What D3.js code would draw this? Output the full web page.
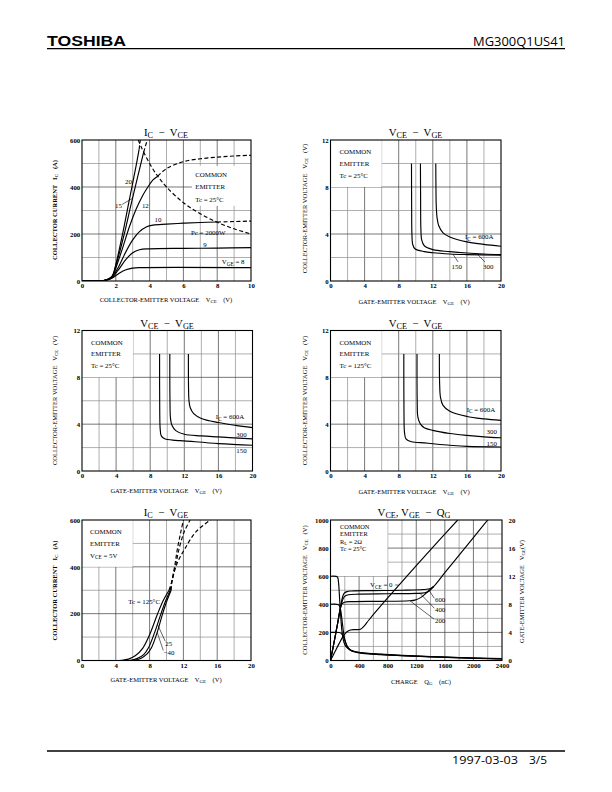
<!DOCTYPE html>
<html>
<head>
<meta charset="utf-8">
<script src="https://cdn.jsdelivr.net/npm/d3@7"></script>
<style>
  body { margin: 0; background: #fff; }
  svg { display: block; }
  text { white-space: pre; }
</style>
</head>
<body>
<svg id="page" width="612" height="792"></svg>
<script>

// ---------------- data ----------------

// IC - VCE, Tc = 25°C  (VCE in V, IC in A)
const icVceTicksX = [0, 2, 4, 6, 8, 10];
const icVceTicksY = [0, 200, 400, 600];
const icVce20 = [[0,0],[0.8,0],[1.2,1],[1.5,6],[1.8,22],[2.0,70],[2.4,200],[2.8,345],[3.2,490],[3.38,560],[3.45,600]];
const icVce15 = [[0,0],[0.8,0],[1.2,1],[1.5,6],[1.8,22],[2.0,65],[2.5,200],[2.9,325],[3.3,445],[3.65,548],[3.8,585],[3.88,600]];
const icVce12 = [[0,0],[0.8,0],[1.2,1],[1.5,6],[1.8,20],[2.0,55],[2.4,140],[2.8,230],[3.2,305],[3.6,365],[3.9,400],[4.2,430],[4.48,446],[5,478],[6,508],[7,520],[8,527],[9,532],[10,535]];
const icVce10 = [[0,0],[0.8,0],[1.2,1],[1.5,5],[1.8,18],[2.2,65],[2.6,125],[3.0,175],[3.4,210],[3.8,230],[4.2,238],[5,242],[6,246],[7,249],[8,251],[9,253],[10,255]];
const icVce9  = [[0,0],[0.8,0],[1.2,1],[1.5,5],[1.8,16],[2.2,52],[2.6,92],[3.0,120],[3.4,133],[4,137],[6,139],[8,140],[10,142]];
const icVce8  = [[0,0],[0.8,0],[1.2,1],[1.5,4],[1.8,13],[2.2,33],[2.6,48],[3.0,55],[3.5,57],[10,57]];
const icVceDashFrom = [3.38, 3.65, 4.48, 8, 99, 99];
const pcLimit = [[3.33,600],[3.5,571],[4,500],[4.5,444],[5,400],[6,333],[7,286],[8,250],[9,222],[10,200]];

// VCE - VGE  (VGE in V, VCE in V)
const vceVgeTicksX = [0, 4, 8, 12, 16, 20];
const vceVgeTicksY = [0, 4, 8, 12];
// top right sheet, Tc = 25°C
const vgeA600 = [[12.35,10],[12.37,8],[12.4,6.5],[12.5,5.4],[12.7,4.7],[13.2,4.1],[14,3.75],[16,3.33],[18,3.12],[20,2.96]];
const vgeA300 = [[10.55,10],[10.57,7],[10.6,4.5],[10.7,3.5],[11,3.0],[12,2.67],[14,2.5],[16,2.38],[18,2.3],[20,2.25]];
const vgeA150 = [[9.5,10],[9.52,6],[9.55,4],[9.65,3.1],[9.9,2.75],[11,2.5],[12,2.4],[14,2.3],[16,2.25],[20,2.19]];
// middle left sheet, Tc = 25°C
const vgeB600 = [[12.48,10],[12.5,7],[12.55,6],[12.7,5.4],[13.1,4.9],[14,4.49],[16,4.14],[18,3.9],[20,3.71]];
const vgeB300 = [[10.3,10],[10.32,6],[10.38,4.5],[10.55,3.9],[11,3.45],[12,3.14],[14,3.0],[16,2.91],[20,2.74]];
const vgeB150 = [[9.1,10],[9.12,5],[9.17,3.6],[9.3,3.0],[9.7,2.75],[11,2.62],[12,2.57],[16,2.34],[20,2.2]];
// middle right sheet, Tc = 125°C
const vgeHot600 = [[12.77,10],[12.8,7.5],[12.9,6.3],[13.2,5.6],[14,5.1],[16,4.66],[18,4.45],[20,4.32]];
const vgeHot300 = [[10.15,10],[10.17,6],[10.25,4.6],[10.55,4.0],[11,3.7],[12,3.47],[14,3.2],[16,3.04],[18,2.92],[20,2.84]];
const vgeHot150 = [[8.6,10],[8.62,5],[8.68,3.3],[8.85,2.75],[9.5,2.5],[11,2.4],[12,2.33],[14,2.2],[16,2.1],[20,2.05]];

// IC - VGE, VCE = 5 V  (VGE in V, IC in A); dashed above 300 A
const icVgeTicksX = [0, 4, 8, 12, 16, 20];
const icVgeTicksY = [0, 200, 400, 600];
const icVge125 = [[0,0],[4.0,0],[4.7,1],[5.5,6],[6.3,20],[7.2,53],[8.0,110],[8.9,195],[9.6,255],[10.3,300],[10.65,340],[11.2,410],[12.2,479],[13.5,550],[15.2,600]];
const icVge25  = [[0,0],[5.0,0],[5.7,1],[6.5,8],[7.3,25],[7.85,53],[8.6,120],[9.3,195],[9.9,255],[10.45,300],[10.65,340],[11.1,410],[11.5,479],[12.1,550],[12.8,600]];
const icVgeM40 = [[0,0],[5.5,0],[6.2,1],[7.0,10],[7.7,28],[8.2,53],[8.9,120],[9.5,195],[10.05,255],[10.55,300],[10.65,340],[11.0,410],[11.3,479],[11.7,550],[12.0,600]];

// VCE, VGE - QG  (QG in nC, VCE in V on left axis, VGE in V on right axis)
const qgTicksX = [0, 400, 800, 1200, 1600, 2000, 2400];
const qgTicksVce = [0, 200, 400, 600, 800, 1000];
const qgTicksVge = [0, 4, 8, 12, 16, 20];
const qgVce600 = [[0,600],[80,599],[100,592],[115,540],[125,460],[140,340],[160,210],[185,135],[215,100],[260,80],[310,68],[400,58],[500,52],[700,45],[1000,37],[1400,28],[1800,21],[2400,13]];
const qgVce400 = [[0,400],[100,399],[125,390],[145,350],[165,270],[185,190],[210,130],[240,95],[280,75],[350,62],[450,53],[700,44],[1000,35],[1400,27],[1800,20],[2400,12]];
const qgVce200 = [[0,200],[120,199],[150,193],[180,170],[210,130],[240,95],[280,72],[340,60],[450,51],[700,42],[1000,34],[1400,26],[1800,19],[2400,11]];
const qgGate0   = [[0,0],[60,1.2],[120,2.4],[180,3.5],[230,4.1],[280,4.35],[340,4.4],[420,4.45],[470,4.9],[540,5.8],[800,8.9],[1200,13.5],[1500,16.9],[1780,20]];
const qgGate600 = [[0,0],[50,2.6],[100,5.3],[140,7.6],[165,8.9],[190,9.55],[230,9.8],[300,9.9],[600,9.95],[1000,10.0],[1300,10.1],[1400,10.25],[1440,10.5],[1600,12.5],[1800,15.0],[2000,17.5],[2200,20]];
const qgGate400 = [[0,0],[50,2.6],[100,5.3],[140,7.5],[165,8.5],[195,9.1],[250,9.35],[400,9.45],[800,9.5],[1200,9.55],[1320,9.65],[1380,9.9],[1440,10.5]];
const qgGate200 = [[0,0],[50,2.6],[100,5.3],[135,7.3],[160,8.05],[195,8.3],[300,8.38],[700,8.42],[1100,8.5],[1180,8.6],[1260,8.95],[1340,9.6],[1440,10.5]];

// ---------------- drawing ----------------

const svg = d3.select("#page").attr("font-family", '"Liberation Serif","Times New Roman",serif');
let clipCount = 0;

// text with "_{..}" subscripts
function rich(t, str, size) {
  const parts = str.split(/(_\{[^}]*\})/).filter(s => s.length);
  let shift = 0;
  parts.forEach(s => {
    const sub = s.startsWith("_{");
    const ts = t.append("tspan").text(sub ? s.slice(2, -1) : s);
    if (sub) {
      ts.attr("font-size", size * 0.76).attr("dy", size * 0.18);
      shift = size * 0.18;
    } else if (shift) {
      ts.attr("dy", -shift);
      shift = 0;
    }
  });
  return t;
}

function text(g, x, y, str, size, opt) {
  opt = opt || {};
  const t = g.append("text")
    .attr("x", x).attr("y", y)
    .attr("font-size", size)
    .attr("text-anchor", opt.anchor || "start")
    .attr("dy", "0.35em");
  if (opt.bold) t.attr("font-weight", "bold");
  if (opt.rotate) t.attr("transform", `rotate(-90,${x},${y})`);
  return rich(t, str, size);
}

function styleAxis(a) {
  a.attr("font-family", null).attr("font-size", 6.8).attr("font-weight", "bold");
  a.select(".domain").remove();
}

function makePanel(c) {
  let p = { c: c };
  p.x = d3.scaleLinear().domain(c.xDomain).range([c.left, c.right]);
  p.y = d3.scaleLinear().domain(c.yDomain).range([c.bottom, c.top]);
  p.g = svg.append("g");

  let id = "clip" + (++clipCount);
  svg.append("clipPath").attr("id", id).append("rect")
    .attr("x", c.left).attr("y", c.top)
    .attr("width", c.right - c.left).attr("height", c.bottom - c.top);

  // grid
  let gx = d3.range(c.xDomain[0] + c.xStep, c.xDomain[1] - c.xStep / 2, c.xStep);
  let gy = d3.range(c.yDomain[0] + c.yStep, c.yDomain[1] - c.yStep / 2, c.yStep);
  let grid = p.g.append("g");
  grid.selectAll(".gx").data(gx).join("line")
    .attr("x1", d => p.x(d)).attr("x2", d => p.x(d))
    .attr("y1", c.top).attr("y2", c.bottom)
    .attr("stroke", d => c.xTicks.includes(d) ? "#3c3c3c" : "#8c8c8c")
    .attr("stroke-width", 0.7);
  grid.selectAll(".gy").data(gy).join("line")
    .attr("x1", c.left).attr("x2", c.right)
    .attr("y1", d => p.y(d)).attr("y2", d => p.y(d))
    .attr("stroke", d => c.yTicks.includes(d) ? "#3c3c3c" : "#8c8c8c")
    .attr("stroke-width", 0.7);

  // blank area behind the condition text
  if (c.box) {
    grid.append("rect")
      .attr("x", p.x(c.box[0])).attr("y", p.y(c.box[3]))
      .attr("width", p.x(c.box[1]) - p.x(c.box[0]))
      .attr("height", p.y(c.box[2]) - p.y(c.box[3]))
      .attr("fill", "#fff");
  }

  p.plot = p.g.append("g").attr("clip-path", `url(#${id})`);
  p.notes = p.g.append("g");

  p.g.append("rect")
    .attr("x", c.left).attr("y", c.top)
    .attr("width", c.right - c.left).attr("height", c.bottom - c.top)
    .attr("fill", "none").attr("stroke", "#000").attr("stroke-width", 1.1);

  let ax = p.g.append("g").attr("transform", `translate(0,${c.bottom})`)
    .call(d3.axisBottom(p.x).tickValues(c.xTicks).tickSize(0).tickPadding(2.6).tickFormat(d3.format("d")));
  styleAxis(ax);
  let ay = p.g.append("g").attr("transform", `translate(${c.left},0)`)
    .call(d3.axisLeft(p.y).tickValues(c.yTicks).tickSize(0).tickPadding(1.8).tickFormat(d3.format("d")));
  styleAxis(ay);

  // titles
  text(p.g, c.titlePos[0], c.titlePos[1], c.title, 10.8, { anchor: "middle" });
  text(p.g, c.xLabelPos[0], c.xLabelPos[1], c.xLabel, 6.5, { anchor: "middle" });
  text(p.g, c.yLabelPos[0], c.yLabelPos[1], c.yLabel, 6.5, { anchor: "middle", rotate: true, bold: c.yBold });

  // condition text
  c.cond.forEach((s, i) => {
    text(p.notes, p.x(c.condPos[0]), p.y(c.condPos[1][i]), s, c.condSize || 6.9);
  });
  return p;
}

function drawCurve(p, pts, dashed, ys) {
  ys = ys || p.y;
  let gen = d3.line()
    .x(d => p.x(d[0]))
    .y(d => ys(d[1]))
    .curve(d3.curveCatmullRom.alpha(0.5));
  p.plot.append("path")
    .attr("d", gen(pts))
    .attr("fill", "none")
    .attr("stroke", "#000")
    .attr("stroke-width", 1.15)
    .attr("stroke-dasharray", dashed ? "4,2.4" : null);
}

// solid up to the first point where test() holds, dashed from there
function drawSplit(p, pts, test, ys) {
  let i = pts.findIndex(test);
  if (i < 0) { drawCurve(p, pts, false, ys); return; }
  drawCurve(p, pts.slice(0, i + 1), false, ys);
  drawCurve(p, pts.slice(i), true, ys);
}

function note(p, pos, str, anchor) {
  text(p.notes, p.x(pos[0]), p.y(pos[1]), str, 6.9, { anchor: anchor || "start" });
}

function leader(p, a, b) {
  p.notes.append("line")
    .attr("x1", p.x(a[0])).attr("y1", p.y(a[1]))
    .attr("x2", p.x(b[0])).attr("y2", p.y(b[1]))
    .attr("stroke", "#000").attr("stroke-width", 0.6);
}

// ---------------- header & footer ----------------
svg.append("text").attr("x", 47).attr("y", 46).text("TOSHIBA")
  .attr("font-family", '"Liberation Sans",Arial,sans-serif').attr("font-weight", "bold")
  .attr("font-size", 14.5).attr("textLength", 79).attr("lengthAdjust", "spacingAndGlyphs");
svg.append("text").attr("x", 565).attr("y", 46).text("MG300Q1US41")
  .attr("font-family", '"Open Sans",sans-serif').attr("font-size", 12.3)
  .attr("text-anchor", "end").attr("textLength", 92).attr("lengthAdjust", "spacingAndGlyphs");
svg.append("line").attr("x1", 47).attr("x2", 565).attr("y1", 48.6).attr("y2", 48.6)
  .attr("stroke", "#000").attr("stroke-width", 1.3);
svg.append("line").attr("x1", 47).attr("x2", 565).attr("y1", 751).attr("y2", 751)
  .attr("stroke", "#000").attr("stroke-width", 1.3);
svg.append("text").attr("x", 452).attr("y", 764).text("1997-03-03")
  .attr("font-family", '"Open Sans",sans-serif').attr("font-size", 10.3)
  .attr("textLength", 66).attr("lengthAdjust", "spacingAndGlyphs");
svg.append("text").attr("x", 529).attr("y", 764).text("3/5")
  .attr("font-family", '"Open Sans",sans-serif').attr("font-size", 10.3)
  .attr("textLength", 18).attr("lengthAdjust", "spacingAndGlyphs");

// ---------------- panel 1 : IC - VCE ----------------
let p1 = makePanel({
  left: 82, right: 251, top: 140, bottom: 281,
  xDomain: [0, 10], yDomain: [0, 600], xStep: 1, yStep: 100,
  xTicks: icVceTicksX, yTicks: icVceTicksY,
  box: [6.5, 10, 320, 490],
  title: "I_{C}  −  V_{CE}", titlePos: [166, 132.5],
  xLabel: "COLLECTOR-EMITTER VOLTAGE    V_{CE}    (V)", xLabelPos: [166, 299.5],
  yLabel: "COLLECTOR CURRENT   I_{C}   (A)", yLabelPos: [55, 210], yBold: true,
  cond: ["COMMON", "EMITTER", "Tc = 25°C"], condPos: [6.7, [454, 401, 348]]
});
[icVce20, icVce15, icVce12, icVce10, icVce9, icVce8].forEach((c, i) => {
  drawSplit(p1, c, d => d[0] >= icVceDashFrom[i]);
});
drawCurve(p1, pcLimit, true);
note(p1, [2.75, 422], "20", "middle");
note(p1, [2.36, 320], "15", "end");
leader(p1, [2.38, 326], [2.99, 352]);
note(p1, [3.75, 323], "12", "middle");
note(p1, [4.5, 262], "10", "middle");
note(p1, [6.45, 205], "Pc = 2000W");
note(p1, [7.28, 156], "9", "middle");
note(p1, [8.27, 81], "V_{GE} = 8");

// ---------------- panels 2-4 : VCE - VGE ----------------
function vcePanel(left, top, bottom, xLab, yLab, cond) {
  return makePanel({
    left: left, right: left + 170.5, top: top, bottom: bottom,
    xDomain: [0, 20], yDomain: [0, 12], xStep: 2, yStep: 2,
    xTicks: vceVgeTicksX, yTicks: vceVgeTicksY,
    box: [0, 6, 8, 12],
    title: "V_{CE}  −  V_{GE}", titlePos: [left + 85, top - 7.3],
    xLabel: "GATE-EMITTER VOLTAGE    V_{GE}    (V)", xLabelPos: xLab,
    yLabel: "COLLECTOR-EMITTER VOLTAGE   V_{CE}   (V)", yLabelPos: yLab,
    cond: ["COMMON", "EMITTER", cond], condPos: [1.05, [11.0, 10.02, 9.0]]
  });
}

let p2 = vcePanel(330.5, 140, 281, [414, 301.5], [305, 208.5], "Tc = 25°C");
[vgeA600, vgeA300, vgeA150].forEach(c => drawCurve(p2, c, false));
note(p2, [15.78, 3.75], "I_{C} = 600A");
note(p2, [14.8, 1.2], "150", "middle");
note(p2, [18.5, 1.2], "300", "middle");
leader(p2, [14.97, 1.62], [14.38, 2.26]);
leader(p2, [18.12, 1.62], [17.15, 2.33]);

let p3 = vcePanel(82, 330.5, 471, [166, 490.5], [55, 400.5], "Tc = 25°C");
[vgeB600, vgeB300, vgeB150].forEach(c => drawCurve(p3, c, false));
note(p3, [15.7, 4.62], "I_{C} = 600A");
note(p3, [18.1, 3.1], "300");
note(p3, [18.1, 1.77], "150");

let p4 = vcePanel(330.5, 330.5, 471, [414, 492], [305, 400.5], "Tc = 125°C");
[vgeHot600, vgeHot300, vgeHot150].forEach(c => drawCurve(p4, c, false));
note(p4, [15.98, 5.26], "I_{C} = 600A");
note(p4, [18.3, 3.34], "300");
note(p4, [18.3, 2.35], "150");

// ---------------- panel 5 : IC - VGE ----------------
let p5 = makePanel({
  left: 82, right: 251, top: 520, bottom: 660.5,
  xDomain: [0, 20], yDomain: [0, 600], xStep: 2, yStep: 100,
  xTicks: icVgeTicksX, yTicks: icVgeTicksY,
  box: [0, 6, 400, 600],
  title: "I_{C}  −  V_{GE}", titlePos: [166, 512.7],
  xLabel: "GATE-EMITTER VOLTAGE    V_{GE}    (V)", xLabelPos: [166, 679.5],
  yLabel: "COLLECTOR CURRENT   I_{C}   (A)", yLabelPos: [55, 590.5], yBold: true,
  cond: ["COMMON", "EMITTER", "V_{CE} = 5V"], condPos: [0.95, [550, 501, 448]]
});
[icVge125, icVge25, icVgeM40].forEach(c => drawSplit(p5, c, d => d[1] >= 300));
note(p5, [9.23, 252], "Tc = 125°C", "end");
note(p5, [9.86, 71], "25");
leader(p5, [9.85, 82], [8.93, 155]);
note(p5, [9.66, 34], "−40");
leader(p5, [9.62, 43], [8.9, 120]);

// ---------------- panel 6 : VCE, VGE - QG ----------------
let p6 = makePanel({
  left: 330.5, right: 502, top: 520, bottom: 660.5,
  xDomain: [0, 2400], yDomain: [0, 1000], xStep: 200, yStep: 100,
  xTicks: qgTicksX, yTicks: qgTicksVce,
  box: [0, 800, 600, 1000],
  title: "V_{CE}, V_{GE}  −  Q_{G}", titlePos: [414, 512.5],
  xLabel: "CHARGE    Q_{G}    (nC)", xLabelPos: [421, 681.5],
  yLabel: "COLLECTOR-EMITTER VOLTAGE   V_{CE}   (V)", yLabelPos: [305, 590],
  cond: ["COMMON", "EMITTER", "R_{L} = 2Ω", "Tc = 25°C"], condPos: [133, [949, 899, 848, 797]],
  condSize: 6.4
});
p6.y2 = d3.scaleLinear().domain([0, 20]).range([660.5, 520]);
let ay2 = p6.g.append("g").attr("transform", "translate(502,0)")
  .call(d3.axisRight(p6.y2).tickValues(qgTicksVge).tickSize(0).tickPadding(6.5).tickFormat(d3.format("d")));
styleAxis(ay2);
text(p6.g, 521.5, 591.5, "GATE-EMITTER VOLTAGE   V_{GE}(V)", 6.5, { anchor: "middle", rotate: true });

[qgVce600, qgVce400, qgVce200].forEach(c => drawCurve(p6, c, false));
[qgGate0, qgGate600, qgGate400, qgGate200].forEach(c => drawCurve(p6, c, false, p6.y2));
note(p6, [553, 538], "V_{CE} = 0");
leader(p6, [905, 538], [958, 536]);
note(p6, [1462, 436], "600");
note(p6, [1462, 365], "400");
note(p6, [1462, 284], "200");
leader(p6, [1453, 443], [1369, 508]);
leader(p6, [1453, 372], [1252, 478]);
leader(p6, [1453, 293], [1112, 425]);

</script>
</body>
</html>
